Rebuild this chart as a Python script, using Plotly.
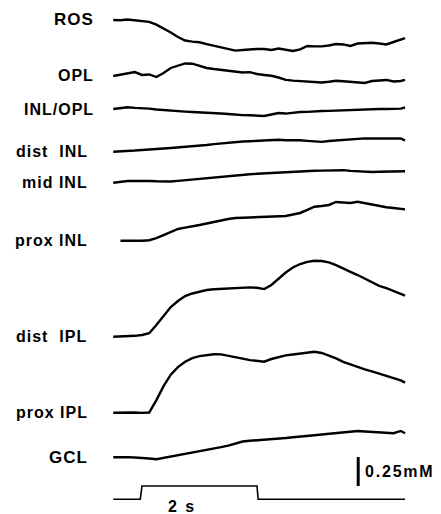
"""Extracellular concentration traces at retinal depths, with stimulus and scale bar."""

import plotly.graph_objects as go

# time grid (s), 0 = stimulus onset
time_s = [-0.5, -0.375, -0.25, -0.125, 0.0, 0.125, 0.25, 0.375, 0.5, 0.625,
          0.75, 0.875, 1.0, 1.125, 1.25, 1.375, 1.5, 1.625, 1.75, 1.875,
          2.0, 2.125, 2.25, 2.375, 2.5, 2.625, 2.75, 2.875, 3.0, 3.125,
          3.25, 3.375, 3.5, 3.625, 3.75, 3.875, 4.0, 4.125, 4.25, 4.375,
          4.5, 4.575]

layers = ["ROS", "OPL", "INL/OPL", "dist  INL", "mid INL", "prox INL",
          "dist  IPL", "prox IPL", "GCL"]

# concentration change (mM) relative to the start of each trace
ros = [0, -0.003, 0.004, -0.002, -0.006, -0.017, -0.041, -0.073, -0.108, -0.147,
       -0.177, -0.187, -0.192, -0.209, -0.224, -0.240, -0.254, -0.264, -0.259, -0.253,
       -0.250, -0.250, -0.259, -0.246, -0.254, -0.267, -0.253, -0.224, -0.228, -0.228,
       -0.220, -0.207, -0.211, -0.224, -0.203, -0.198, -0.197, -0.203, -0.211, -0.190,
       -0.168, -0.157]
opl = [0, 0.013, 0.026, 0.034, 0.009, 0.013, -0.009, 0.026, 0.069, 0.091,
       0.108, 0.106, 0.086, 0.069, 0.060, 0.053, 0.047, 0.039, 0.030, 0.033,
       0.017, 0.009, 0.002, -0.013, -0.034, -0.040, -0.045, -0.047, -0.052, -0.056,
       -0.050, -0.041, -0.045, -0.049, -0.056, -0.060, -0.043, -0.039, -0.034, -0.047,
       -0.043, -0.034]
inl_opl = [0, 0.010, 0.016, 0.010, 0.009, 0.004, -0.004, -0.007, -0.013, -0.017,
           -0.022, -0.026, -0.028, -0.030, -0.034, -0.039, -0.043, -0.050, -0.052, -0.053,
           -0.058, -0.060, -0.047, -0.034, -0.039, -0.030, -0.026, -0.024, -0.019, -0.017,
           -0.016, -0.013, -0.010, -0.009, -0.007, -0.005, -0.003, 0, 0, 0.002,
           0.004, 0.013]
dist_inl = [0, 0.002, 0.006, 0.010, 0.015, 0.021, 0.023, 0.028, 0.032, 0.036,
            0.041, 0.045, 0.051, 0.058, 0.066, 0.073, 0.079, 0.083, 0.088, 0.091,
            0.094, 0.098, 0.101, 0.103, 0.099, 0.101, 0.099, 0.094, 0.088, 0.085,
            0.092, 0.097, 0.103, 0.109, 0.114, 0.115, 0.114, 0.115, 0.114, 0.118,
            0.115, 0.097]
mid_inl = [0, 0.010, 0.015, 0.016, 0.017, 0.015, 0.012, 0.009, 0.010, 0.016,
           0.022, 0.028, 0.034, 0.042, 0.049, 0.053, 0.058, 0.064, 0.068, 0.073,
           0.077, 0.081, 0.085, 0.088, 0.092, 0.095, 0.096, 0.099, 0.103, 0.104,
           0.107, 0.109, 0.108, 0.102, 0.098, 0.095, 0.092, 0.094, 0.095, 0.094,
           0.097, 0.099]
prox_inl = [None, 0, -0.001, -0.003, -0.001, 0.004, 0.023, 0.049, 0.075, 0.101,
            0.113, 0.122, 0.135, 0.148, 0.164, 0.174, 0.187, 0.196, 0.198, 0.200,
            0.203, 0.205, 0.206, 0.207, 0.213, 0.226, 0.239, 0.265, 0.293, 0.299,
            0.308, 0.334, 0.329, 0.325, 0.336, 0.323, 0.308, 0.297, 0.288, 0.282,
            0.273, 0.270]
dist_ipl = [0, 0.002, 0.004, 0.008, 0.015, 0.030, 0.101, 0.183, 0.256, 0.308,
            0.351, 0.373, 0.390, 0.403, 0.410, 0.414, 0.418, 0.420, 0.424, 0.426,
            0.422, 0.411, 0.446, 0.502, 0.554, 0.597, 0.627, 0.646, 0.655, 0.653,
            0.641, 0.618, 0.592, 0.560, 0.532, 0.502, 0.465, 0.439, 0.420, 0.394,
            0.373, 0.355]
prox_ipl = [0, 0.002, -0.001, 0.002, -0.001, 0.002, 0.109, 0.229, 0.328, 0.393,
            0.440, 0.471, 0.488, 0.497, 0.504, 0.503, 0.493, 0.480, 0.467, 0.454,
            0.446, 0.440, 0.463, 0.481, 0.495, 0.502, 0.511, 0.519, 0.525, 0.515,
            0.494, 0.468, 0.439, 0.416, 0.394, 0.373, 0.356, 0.338, 0.317, 0.297,
            0.278, 0.259]
gcl = [0, 0.003, 0.001, -0.002, -0.004, -0.010, -0.017, -0.006, 0.007, 0.016,
       0.026, 0.037, 0.048, 0.061, 0.073, 0.087, 0.101, 0.118, 0.136, 0.142,
       0.146, 0.150, 0.155, 0.159, 0.166, 0.173, 0.177, 0.183, 0.190, 0.196,
       0.202, 0.209, 0.216, 0.224, 0.227, 0.222, 0.218, 0.215, 0.211, 0.207,
       0.227, 0.207]

# light stimulus (on / off)
stim_time = [-0.5, -0.03, 0.0, 2.0, 2.02, 4.575]
stim_on = [0, 0, 1, 1, 0, 0]

scale_mM = 0.25
stim_label = "2 s"

# ---- layout (vertical stacking in mM-equivalent units) ----
offsets = [4.259, 3.776, 3.491, 3.123, 2.856, 2.356, 1.528, 0.873, 0.489]
label_x = [-0.80, -0.80, -0.80, -0.91, -0.91, -0.91, -0.92, -0.90, -0.90]
label_size = [17, 16, 16, 16, 16, 16, 16, 16, 17]
stim_base, stim_height = 0.127, 0.115

series = [ros, opl, inl_opl, dist_inl, mid_inl, prox_inl, dist_ipl, prox_ipl, gcl]

fig = go.Figure()
FONT = "Liberation Sans, Arial, sans-serif"


def label_font(size):
    return dict(family=FONT, size=size, color="black", weight="bold")


for name, vals, off, lx, fs in zip(layers, series, offsets, label_x, label_size):
    fig.add_trace(go.Scatter(
        x=time_s,
        y=[None if v is None else off + v for v in vals],
        mode="lines", line=dict(color="black", width=2.4),
        name=name, hoverinfo="skip",
    ))
    fig.add_annotation(x=lx, y=off, text=f'<span style="letter-spacing:1px">{name}</span>',
                       showarrow=False, xanchor="right", yanchor="middle", font=label_font(fs))

fig.add_trace(go.Scatter(
    x=stim_time, y=[stim_base + s * stim_height for s in stim_on],
    mode="lines", line=dict(color="black", width=1.6), hoverinfo="skip",
))
fig.add_annotation(x=0.7, y=0.069, text=f'<span style="letter-spacing:2px">{stim_label}</span>',
                   showarrow=False, xanchor="center", yanchor="middle", font=label_font(16))

# vertical scale bar
bar_x, bar_y0 = 3.76, 0.241
fig.add_trace(go.Scatter(
    x=[bar_x, bar_x], y=[bar_y0, bar_y0 + scale_mM],
    mode="lines", line=dict(color="black", width=3), hoverinfo="skip",
))
fig.add_annotation(x=3.84, y=bar_y0 + scale_mM / 2, text=f'<span style="letter-spacing:1.8px">{scale_mM}mM</span>',
                   showarrow=False, xanchor="left", yanchor="middle", font=label_font(16))

# page body adds an 8 px offset, so the figure covers x 8..441, y 8..514
fig.update_layout(
    width=433, height=506,
    margin=dict(l=0, r=0, t=0, b=0),
    plot_bgcolor="white", paper_bgcolor="white",
    showlegend=False,
    xaxis=dict(range=[(8 - 142) / 57.5, 299 / 57.5], visible=False),
    yaxis=dict(range=[0, 506 / 116], visible=False),
)

fig.write_html("out.html")
